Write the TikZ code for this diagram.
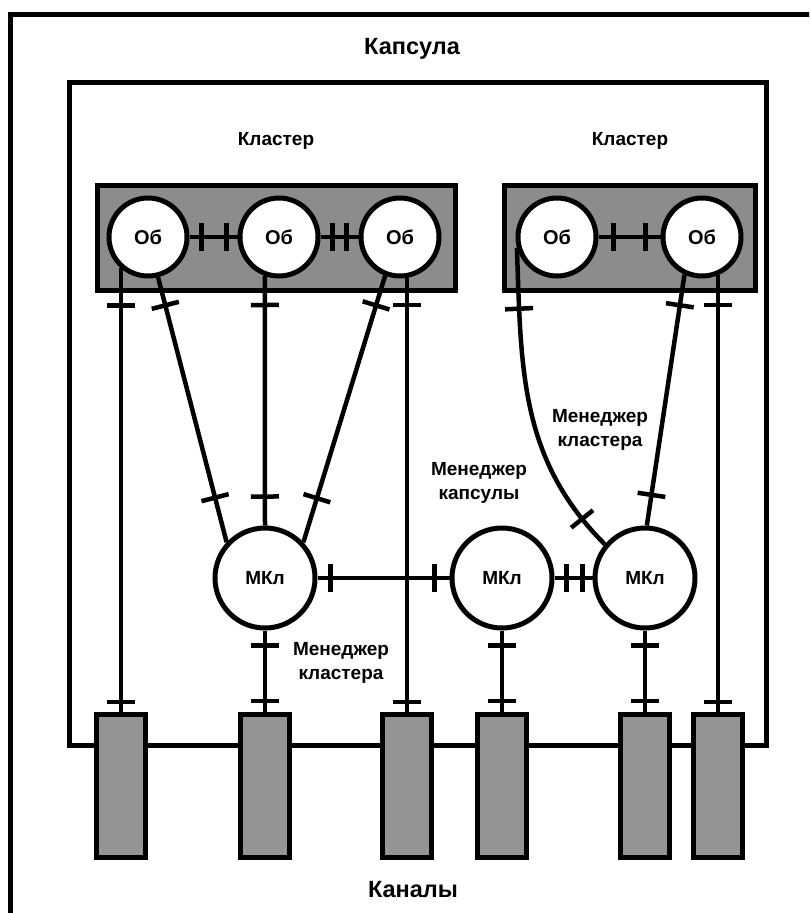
\documentclass[tikz,border=0pt]{standalone}
\usepackage{fontspec}
\setmainfont{Liberation Sans}
\usetikzlibrary{positioning, decorations.markings}

\begin{document}
\begin{tikzpicture}[
    x=1pt, y=-1pt,
    obj/.style={circle, draw=black, line width=5pt, fill=white, minimum size=78pt, inner sep=0pt, font=\fontsize{20}{22}\selectfont\bfseries},
    mgr/.style={obj, minimum size=100pt, font=\fontsize{19}{22}\selectfont\bfseries},
    chan/.style={rectangle, draw=black, line width=5pt, fill=black!42, minimum width=49pt, minimum height=143pt, inner sep=0pt},
    clbox/.style={rectangle, draw=black, line width=5pt, fill=black!45, inner sep=0pt},
    wire/.style={line width=4.5pt, black},
    tag/.style={font=\fontsize{19}{24}\selectfont\bfseries, align=center, inner sep=0pt},
    title/.style={font=\fontsize{23.5}{26}\selectfont\bfseries, inner sep=0pt},
    ticks/.style 2 args={postaction={decorate, decoration={markings,
        mark=at position #1 with {\draw[line width=4.5pt] (0pt,-14pt) -- (0pt,14pt);},
        mark=at position -#2 with {\draw[line width=4.5pt] (0pt,-14pt) -- (0pt,14pt);}}}}
]
    \useasboundingbox (0,0) rectangle (809,913);
    \clip (0,0) rectangle (809,913);

    % --- Frame and capsule ---
    \draw[line width=5pt] (10.5,14.5) rectangle (840,940);
    \node[title] (CapsT) at (412,49) {Капсула};
    \node[rectangle, draw=black, line width=5pt, inner sep=0pt,
          minimum width=697pt, minimum height=663pt] (Caps) at (417.5,413.5) {};

    % --- Cluster A (left): 3 objects ---
    \node[tag] (ClAT) at (276,141) {Кластер};
    \node[clbox, minimum width=358pt, minimum height=105pt] (ClA) at (276.5,238) {};
    \node[obj] (Ob1) at (148,237) {Об};
    \node[obj] (Ob2) at (279,237) {Об};
    \node[obj] (Ob3) at (400,237) {Об};

    % --- Cluster B (right): 2 objects ---
    \node[tag] (ClBT) at (630,141) {Кластер};
    \node[clbox, minimum width=251pt, minimum height=105pt] (ClB) at (630,238) {};
    \node[obj] (Ob4) at (557,237) {Об};
    \node[obj] (Ob5) at (702,237) {Об};

    % --- Managers ---
    \node[mgr] (Mk1) at (265,578) {МКл};
    \node[mgr] (Mk2) at (502,578) {МКл};
    \node[mgr] (Mk3) at (645,578) {МКл};
    \node[tag] (MkCaps) at (479,483) {Менеджер\\капсулы};
    \node[tag] (MkClB) at (600,430) {Менеджер\\кластера};
    \node[tag] (MkClA) at (341,663) {Менеджер\\кластера};

    % --- Channels ---
    \node[chan] (Ch1) at (121,786) {};
    \node[chan] (Ch2) at (265,786) {};
    \node[chan] (Ch3) at (407,786) {};
    \node[chan] (Ch4) at (502,786) {};
    \node[chan] (Ch5) at (645,786) {};
    \node[chan] (Ch6) at (718,786) {};
    \node[title] (ChT) at (413,890) {Каналы};

    % --- Links inside clusters ---
    \draw[wire, ticks={12pt}{11pt}] (Ob1) -- (Ob2);
    \draw[wire, ticks={12pt}{12pt}] (Ob2) -- (Ob3);
    \draw[wire, ticks={15pt}{15pt}] (Ob4) -- (Ob5);

    % --- Objects to channels ---
    \draw[wire, ticks={37pt}{10pt}] (Ob1.-131) -- (Ob1.-131 |- Ch1.north);
    \draw[wire, ticks={27pt}{10pt}] (Ob3.-80) -- (Ob3.-80 |- Ch3.north);
    \draw[wire, ticks={30pt}{10pt}] (Ob5.-67) -- (Ob5.-67 |- Ch6.north);

    % --- Objects to cluster managers ---
    \draw[wire, ticks={29pt}{46pt}] (Ob1.-76) -- (Mk1.137);
    \draw[wire, ticks={29pt}{29pt}] (Ob2.-110) -- (Mk1.north);
    \draw[wire, ticks={31pt}{46pt}] (Ob3.-111) -- (Mk1.43);
    \draw[wire, ticks={61pt}{34pt}] (Ob4.-165) to[out=-88, in=135] (Mk3.140);
    \draw[wire, ticks={31pt}{31pt}] (Ob5.-115) -- (Mk3.88);

    % --- Managers to each other and to channels ---
    \draw[wire, ticks={13pt}{15pt}] (Mk1) -- (Mk2);
    \draw[wire, ticks={12pt}{10pt}] (Mk2) -- (Mk3);
    \draw[wire, ticks={15pt}{11pt}] (Mk1) -- (Ch2);
    \draw[wire, ticks={15pt}{11pt}] (Mk2) -- (Ch4);
    \draw[wire, ticks={15pt}{11pt}] (Mk3) -- (Ch5);

\end{tikzpicture}
\end{document}
